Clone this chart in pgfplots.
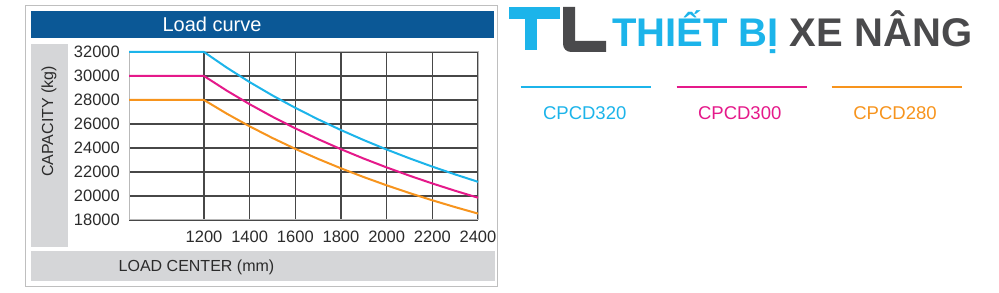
\documentclass[border=0pt]{standalone}
\usepackage{fontspec}
\setmainfont{Liberation Sans}
\usepackage{pgfplots}
\pgfplotsset{compat=1.18}
\definecolor{cblue}{HTML}{1CB4EA}
\definecolor{cmag}{HTML}{E5198A}
\definecolor{corange}{HTML}{F7941D}
\definecolor{titlebar}{HTML}{0B5896}
\definecolor{panel}{HTML}{D5D6D8}
\definecolor{txt}{HTML}{2B2B2B}
\definecolor{logogrey}{HTML}{4A4A4C}
\begin{document}
\begin{tikzpicture}[x=1pt,y=1pt]
\useasboundingbox (0,0) rectangle (999,292);
\fill[white] (0,0) rectangle (999,292);
% frame and panels
\draw[gray!50, line width=1pt] (25.5,6) rectangle (497,286);
\fill[titlebar] (31,254) rectangle (494,281);
\node[white, font=\fontsize{20}{24}\selectfont] at (212,267.5) {Load curve};
\fill[panel] (31,45) rectangle (68,248);
\node[txt, rotate=90, font=\fontsize{16}{19}\selectfont] at (49,170.5) {CAPACITY (kg)};
\fill[panel] (31,11) rectangle (495,41);
\node[txt, font=\fontsize{16}{19}\selectfont] at (196.5,25) {LOAD CENTER (mm)};
\begin{axis}[
  at={(129pt,72pt)}, anchor=south west, scale only axis,
  width=349pt, height=168pt,
  xmin=871.5, xmax=2400, ymin=18000, ymax=32000,
  scaled x ticks=false, scaled y ticks=false,
  xtick={1200,1400,1600,1800,2000,2200,2400},
  xticklabels={1200,1400,1600,1800,2000,2200,2400},
  ytick={18000,20000,22000,24000,26000,28000,30000,32000},
  yticklabels={18000,20000,22000,24000,26000,28000,30000,32000},
  major tick length=0pt,
  grid=major,
  major grid style={line width=1.2pt, color=black!72},
  axis line style={gray!55, line width=1pt},
  tick label style={txt, font=\fontsize{16.5}{19}\selectfont},
  xticklabel style={anchor=north, inner sep=0pt, yshift=-11pt},
  yticklabel style={anchor=east, inner sep=0pt, xshift=-9pt},
  clip=false,
]
\addplot[cblue, line width=2pt] coordinates {
(871.5,32000) (1200,32000) (1300,30694) (1400,29490) (1500,28377) (1600,27345)
(1700,26386) (1800,25492) (1900,24656) (2000,23873) (2100,23138) (2200,22448)
(2300,21797) (2400,21183)};
\addplot[cmag, line width=2pt] coordinates {
(871.5,30000) (1200,30000) (1300,28776) (1400,27647) (1500,26604) (1600,25636)
(1700,24737) (1800,23898) (1900,23115) (2000,22381) (2100,21692) (2200,21045)
(2300,20435) (2400,19859)};
\addplot[corange, line width=2pt] coordinates {
(871.5,28000) (1200,28000) (1300,26857) (1400,25804) (1500,24830) (1600,23927)
(1700,23088) (1800,22305) (1900,21574) (2000,20889) (2100,20246) (2200,19642)
(2300,19073) (2400,18535)};
\end{axis}
% logo
\fill[cblue] (509,273) rectangle (560,285);
\fill[cblue] (525,242) rectangle (537,273);
\fill[logogrey] (575,285) -- (563,285) -- (563,248) arc[start angle=180,end angle=270,radius=8] -- (606,240) -- (606,251) -- (575,251) -- cycle;
\node[anchor=base west, inner sep=0pt, font=\bfseries\fontsize{40}{48}\selectfont] at (612,245) {\textcolor{cblue}{THIẾT BỊ} \textcolor{logogrey}{XE NÂNG}};
% legend
\draw[cblue, line width=2pt] (520.7,205) -- (650.7,205);
\draw[cmag, line width=2pt] (676.7,205) -- (806.7,205);
\draw[corange, line width=2pt] (831.7,205) -- (962,205);
\node[cblue, font=\fontsize{18.5}{22}\selectfont] at (584.7,178.7) {CPCD320};
\node[cmag, font=\fontsize{18.5}{22}\selectfont] at (739.7,178.7) {CPCD300};
\node[corange, font=\fontsize{18.5}{22}\selectfont] at (895,178.7) {CPCD280};
\end{tikzpicture}
\end{document}
